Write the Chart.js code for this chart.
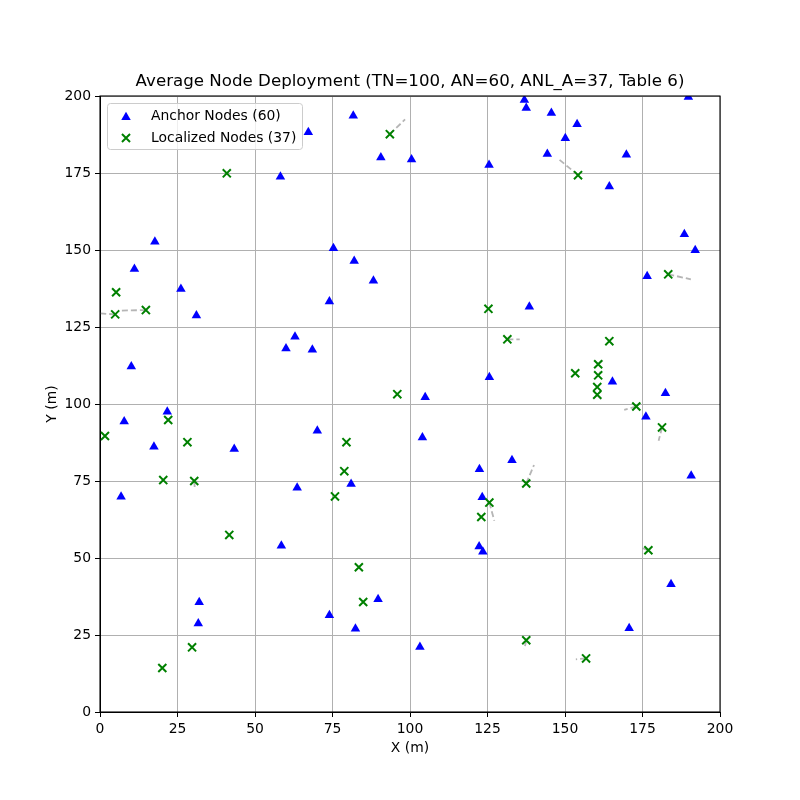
<!DOCTYPE html>
<html>
<head>
<meta charset="utf-8">
<script src="https://cdn.jsdelivr.net/npm/chart.js@4/dist/chart.umd.min.js"></script>
<style>
  html, body { margin: 0; padding: 0; background: #fff; }
  #wrap { width: 800px; height: 800px; }
</style>
</head>
<body>
<div id="wrap"><canvas id="c" width="800" height="800"></canvas></div>
<script>
// ---- Data ----
const chartTitle = 'Average Node Deployment (TN=100, AN=60, ANL_A=37, Table 6)';
const xLabel = 'X (m)';
const yLabel = 'Y (m)';
const anchorLabel = 'Anchor Nodes (60)';
const localizedLabel = 'Localized Nodes (37)';
const tickValues = [0, 25, 50, 75, 100, 125, 150, 175, 200];

const anchorX = [136.9, 137.5, 189.8, 145.6, 153.9, 150.1, 144.3, 169.8, 164.3, 125.5,
                 100.5, 90.6, 81.7, 67.2, 58.2, 75.3, 82.0, 88.2, 74.0, 62.9,
                 60.0, 68.5, 70.1, 17.7, 11.1, 26.1, 31.1, 10.1, 21.7, 7.8,
                 17.4, 43.3, 6.8, 63.6, 81.0, 58.5, 32.0, 31.7, 74.0, 82.4,
                 89.7, 103.2, 104.0, 104.9, 125.6, 138.5, 122.4, 132.9, 123.3, 122.3,
                 123.5, 165.3, 176.1, 182.4, 176.5, 188.5, 192.0, 190.7, 184.2, 170.7];
const anchorY = [198.7, 196.1, 199.7, 194.5, 190.8, 186.3, 181.2, 180.9, 170.6, 177.6,
                 179.4, 180.0, 193.6, 188.2, 173.8, 150.6, 146.4, 140.0, 133.3, 121.8,
                 118.0, 117.6, 91.3, 152.7, 143.8, 137.3, 128.7, 112.2, 97.5, 94.3,
                 86.1, 85.4, 69.9, 72.8, 74.0, 54.0, 35.6, 28.7, 31.4, 27.0,
                 36.6, 21.1, 89.1, 102.2, 108.7, 131.6, 78.8, 81.7, 69.7, 53.7,
                 52.0, 107.2, 95.9, 103.5, 141.5, 155.1, 149.9, 76.7, 41.5, 27.2];

const localizedX = [5.2, 4.9, 14.8, 40.9, 93.5, 95.9, 154.2, 183.3, 125.3, 131.4,
                    164.3, 160.7, 160.7, 153.3, 160.4, 160.4, 173.0, 1.6, 22.0, 28.2,
                    20.4, 30.4, 41.7, 79.5, 78.8, 75.8, 83.5, 84.9, 29.7, 20.1,
                    181.3, 137.5, 125.6, 123.0, 176.9, 137.5, 156.8];
const localizedY = [136.3, 129.1, 130.5, 174.9, 187.6, 103.2, 174.3, 142.1, 130.9, 121.0,
                    120.4, 112.9, 109.3, 110.0, 105.5, 103.0, 99.2, 89.6, 94.8, 87.6,
                    75.3, 75.0, 57.5, 87.6, 78.2, 70.0, 47.0, 35.7, 21.0, 14.3,
                    92.4, 74.2, 68.0, 63.3, 52.5, 23.3, 17.4];

// error lines: index of localized node -> its true position
const errIndex = [4, 1, 2, 6, 7, 9, 11, 12, 15, 16, 30, 31, 32, 34, 35, 36, 21, 20];
const trueX = [98.4, 0.1, 5.8, 147.5, 190.6, 135.4, 162.7, 161.5, 162.2, 169.1, 180.2, 140.0, 127.2, 174.7, 136.9, 153.5, 30.6, 19.4];
const trueY = [192.4, 129.4, 130.3, 179.9, 140.5, 121.0, 114.6, 110.5, 101.1, 98.1, 88.1, 80.2, 62.1, 53.3, 20.4, 17.1, 72.3, 74.2];

// ---- Build datasets ----
const FONT = 'DejaVu Sans';
const datasets = [
  {
    label: localizedLabel,
    data: localizedX.map((x, i) => ({ x: x, y: localizedY[i] })),
    pointStyle: 'crossRot', radius: 5.7, borderWidth: 2,
    borderColor: '#008000', backgroundColor: '#008000', clip: 0
  },
  {
    label: anchorLabel,
    data: anchorX.map((x, i) => ({ x: x, y: anchorY[i] })),
    pointStyle: 'triangle', radius: 5.5, borderWidth: 0,
    borderColor: '#0000ff', backgroundColor: '#0000ff', clip: 0
  }
];
errIndex.forEach((k, j) => {
  datasets.push({
    label: '_err' + j,
    data: [{ x: localizedX[k], y: localizedY[k] }, { x: trueX[j], y: trueY[j] }],
    showLine: true, pointRadius: 0, borderWidth: 1.8,
    borderColor: 'rgba(128,128,128,0.58)', borderDash: [6, 3], clip: 0
  });
});

const framePlugin = {
  id: 'frame',
  afterDatasetsDraw(chart) {
    const { ctx, chartArea: a } = chart;
    ctx.save();
    ctx.strokeStyle = '#000';
    ctx.lineWidth = 1.1;
    ctx.strokeRect(a.left, a.top, a.right - a.left, a.bottom - a.top);
    ctx.restore();
  }
};

const legendPlugin = {
  id: 'boxLegend',
  afterDraw(chart) {
    const { ctx, chartArea: a } = chart;
    const x0 = a.left + 7.5, y0 = a.top + 7.5, w = 195, h = 46;
    ctx.save();
    ctx.beginPath();
    if (ctx.roundRect) ctx.roundRect(x0, y0, w, h, 3); else ctx.rect(x0, y0, w, h);
    ctx.fillStyle = 'rgba(255,255,255,0.8)';
    ctx.fill();
    ctx.strokeStyle = '#cccccc';
    ctx.lineWidth = 1;
    ctx.stroke();
    const items = [chart.data.datasets[1], chart.data.datasets[0]];
    const rows = [y0 + 12.5, y0 + 34.5];
    items.forEach((ds, i) => {
      ctx.fillStyle = ds.backgroundColor;
      ctx.strokeStyle = ds.borderColor;
      ctx.lineWidth = ds.borderWidth || 0.01;
      Chart.helpers.drawPoint(ctx, { pointStyle: ds.pointStyle, radius: ds.radius, rotation: 0, borderWidth: ds.borderWidth }, x0 + 18.5, rows[i] + (ds.pointStyle === 'triangle' ? 1.3 : 0));
      ctx.fillStyle = '#000';
      ctx.font = '13.9px "' + FONT + '"';
      ctx.textBaseline = 'middle';
      ctx.textAlign = 'left';
      ctx.fillText(ds.label, x0 + 43.5, rows[i]);
    });
    ctx.restore();
  }
};

const axisCommon = {
  type: 'linear', min: 0, max: 200,
  border: { display: true, color: '#000', width: 1 },
  grid: { color: '#b0b0b0', lineWidth: 1, tickColor: '#000', tickLength: 5, tickWidth: 1 },
  ticks: { stepSize: 25, color: '#000', font: { family: FONT, size: 13.9 }, padding: 4,
           callback: v => tickValues.includes(v) ? String(v) : '' , maxRotation: 0, autoSkip: false }
};

new Chart(document.getElementById('c'), {
  type: 'scatter',
  data: { datasets: datasets },
  options: {
    responsive: false,
    animation: false,
    devicePixelRatio: 1,
    layout: { padding: { left: 0, right: 80, top: 0, bottom: 0 } },
    plugins: {
      legend: { display: false },
      tooltip: { enabled: false },
      title: {
        display: true, text: chartTitle, color: '#000', fullSize: false,
        font: { family: FONT, size: 16.67, weight: 'normal', lineHeight: 1.2 },
        padding: { top: 72, bottom: 4 }
      }
    },
    scales: {
      x: Object.assign({}, axisCommon, {
        position: 'bottom',
        title: { display: true, text: xLabel, color: '#000', font: { family: FONT, size: 13.9 }, padding: { top: 0, bottom: 43.7 } },
        afterFit(s) { s.height = 88; }
      }),
      y: Object.assign({}, axisCommon, {
        position: 'left',
        title: { display: true, text: yLabel, color: '#000', font: { family: FONT, size: 13.9 }, padding: { top: 43.7, bottom: 0 } },
        afterFit(s) { s.width = 100; }
      })
    }
  },
  plugins: [framePlugin, legendPlugin]
});
</script>
</body>
</html>
